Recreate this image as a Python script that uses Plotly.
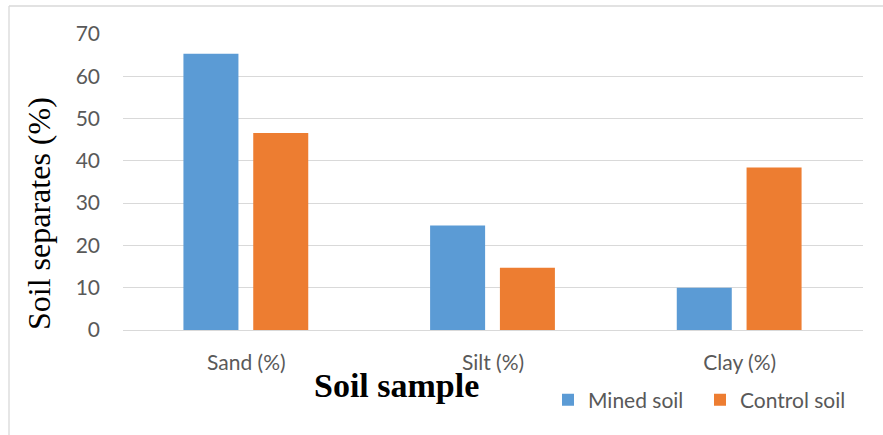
import plotly.graph_objects as go

# Particle-size fractions of the two soils
categories = ["Sand (%)", "Silt (%)", "Clay (%)"]
mined_soil = [65.3, 24.7, 10.0]
control_soil = [46.6, 14.7, 38.4]

BLUE = "#5B9BD5"
ORANGE = "#ED7D31"
GRID = "#D9D9D9"
TEXT = "#595959"
TICK_FONT = dict(family="Lato, Calibri, sans-serif", size=21, color=TEXT)
SERIF = "Liberation Serif, Times New Roman, serif"

W, H = 883, 435
L, R, T, B = 123, 20, 34, 105
pw, ph = W - L - R, H - T - B


def px_x(x):
    return (x - L) / pw


def px_y(y):
    return (H - B - y) / ph


fig = go.Figure()
fig.add_trace(go.Bar(
    x=categories, y=mined_soil, name="Mined soil",
    marker=dict(color=BLUE, line=dict(width=0)),
    width=0.223, offset=-0.255,
))
fig.add_trace(go.Bar(
    x=categories, y=control_soil, name="Control soil",
    marker=dict(color=ORANGE, line=dict(width=0)),
    width=0.223, offset=0.028,
))

fig.update_layout(
    width=W, height=H,
    margin=dict(l=L, r=R, t=T, b=B, pad=0),
    paper_bgcolor="white", plot_bgcolor="white",
    barmode="group",
    showlegend=True,
    legend=dict(
        orientation="h",
        x=px_x(548), y=px_y(400), xanchor="left", yanchor="middle",
        font=TICK_FONT, bgcolor="rgba(0,0,0,0)",
        itemwidth=30, traceorder="normal", entrywidth=107,
    ),
    xaxis=dict(
        showgrid=False, showline=False, ticks="",
        tickfont=TICK_FONT, ticklabelstandoff=18,
    ),
    yaxis=dict(
        range=[0, 70], dtick=10, tick0=0,
        showgrid=True, gridcolor=GRID, gridwidth=1.3,
        zeroline=True, zerolinecolor=GRID, zerolinewidth=1.3,
        showline=False, ticks="",
        tickfont=TICK_FONT, ticklabelstandoff=22,
    ),
    annotations=[
        dict(
            text="Soil separates (%)", textangle=-90,
            x=px_x(39), y=px_y(214), xref="paper", yref="paper",
            xanchor="center", yanchor="middle", showarrow=False,
            font=dict(family=SERIF, size=32, color="black"),
        ),
        dict(
            text="<b>Soil sample</b>",
            x=px_x(396), y=px_y(385), xref="paper", yref="paper",
            xanchor="center", yanchor="middle", showarrow=False,
            font=dict(family=SERIF, size=34, color="black"),
        ),
    ],
    shapes=[
        # chart frame (top and left edges visible)
        dict(type="line", xref="paper", yref="paper",
             x0=px_x(9), x1=px_x(883), y0=px_y(6), y1=px_y(6),
             line=dict(color=GRID, width=1.3)),
        dict(type="line", xref="paper", yref="paper",
             x0=px_x(9), x1=px_x(9), y0=px_y(6), y1=px_y(436),
             line=dict(color=GRID, width=1.3)),
    ],
)

fig.write_html("out.html")
